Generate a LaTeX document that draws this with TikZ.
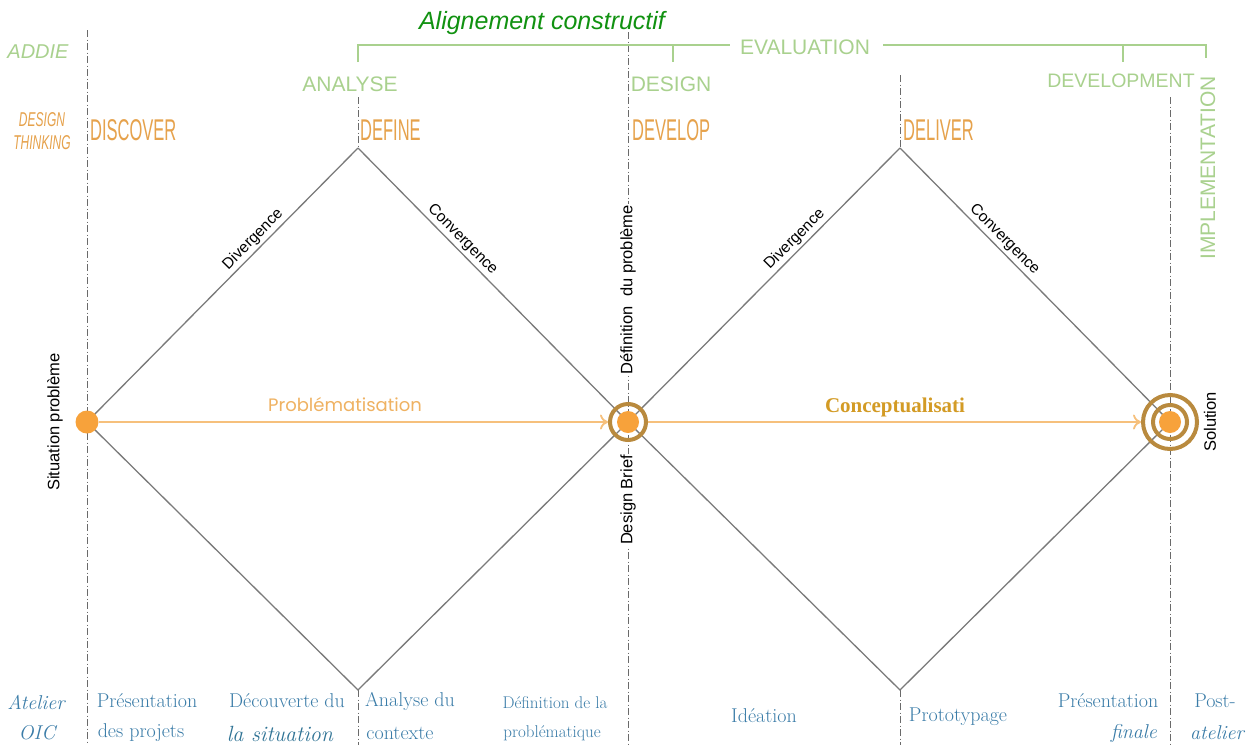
\documentclass[tikz,border=0pt]{standalone}
\usepackage{fontspec}
\usetikzlibrary{arrows.meta}
\newfontfamily\arial{Liberation Sans}
\newfontfamily\tnr{Liberation Serif}
\newfontfamily\rounded{Poppins}
\definecolor{gline}{HTML}{A9D18E}
\definecolor{dtor}{HTML}{E6A24C}
\definecolor{algreen}{HTML}{119211}
\definecolor{botblue}{HTML}{3A7CA8}
\definecolor{sitblue}{HTML}{2F7395}
\definecolor{flowor}{HTML}{F6C07C}
\definecolor{dotor}{HTML}{F7A23B}
\definecolor{ringbr}{HTML}{B98A3E}
\definecolor{probor}{HTML}{EFB262}
\definecolor{concor}{HTML}{D39B25}
\definecolor{diamgray}{HTML}{7A7A7A}
\definecolor{vgray}{HTML}{6A6A6A}
\tikzset{
  vline/.style={draw=vgray, line width=1pt, dash pattern=on 7pt off 2.5pt on 1pt off 2.5pt},
  diam/.style={draw=diamgray, line width=1.3pt},
  lbl/.style={font=\arial\fontsize{15.5}{17}\selectfont, inner sep=2.5pt, text=black},
  vlbl/.style={font=\arial\fontsize{16.5}{18}\selectfont, inner sep=1pt, text=black, rotate=90},
  addie/.style={text=gline, font=\arial\fontsize{21}{23}\selectfont, inner sep=0pt},
  dtlbl/.style={text=dtor, font=\arial\fontsize{30}{30}\selectfont, inner sep=0pt, anchor=west},
  dtsmall/.style={text=dtor, font=\arial\itshape\fontsize{20}{20}\selectfont, inner sep=0pt},
  bottom/.style={text=botblue, font=\fontsize{20}{22}\selectfont, inner sep=0pt},
  bottomit/.style={bottom, font=\itshape\fontsize{20}{22}\selectfont},
  flow/.style={draw=flowor, line width=1.8pt, -{To[length=8pt,width=15pt]}},
  bracket/.style={draw=gline, line width=1.3pt},
  dot/.style={circle, fill=dotor, inner sep=0pt},
  ring/.style={circle, draw=ringbr, line width=4pt, inner sep=0pt},
}
\newcommand{\cond}[1]{\scalebox{0.55}[1]{#1}}
\begin{document}
\begin{tikzpicture}[x=1pt,y=-1pt]
\useasboundingbox[fill=white] (0,0) rectangle (1247,745);

% key points
\coordinate (L) at (87,422);
\coordinate (T1) at (358,148);
\coordinate (M) at (628,422);
\coordinate (B1) at (358,690);
\coordinate (T2) at (900,148);
\coordinate (R) at (1170,422);
\coordinate (B2) at (900,690);

% vertical dash-dot lines
\draw[vline] (87,30) -- (87,745);
\draw[vline] (628,32) -- (628,745);
\draw[vline] (358,97) -- (T1);
\draw[vline] (B1) -- (358,745);
\draw[vline] (900,75) -- (T2);
\draw[vline] (B2) -- (900,745);
\draw[vline] (1170,97) -- (1170,745);

% diamonds
\draw[diam] (L) -- (T1) node[lbl, pos=0.64, sloped, above] {Divergence};
\draw[diam] (T1) -- (M) node[lbl, pos=0.36, sloped, above] {Convergence};
\draw[diam] (M) -- (B1) -- (L);
\draw[diam] (M) -- (T2) node[lbl, pos=0.64, sloped, above] {Divergence};
\draw[diam] (T2) -- (R) node[lbl, pos=0.36, sloped, above] {Convergence};
\draw[diam] (R) -- (B2) -- (M);

% points
\node[dot, minimum size=23pt] (sp) at (L) {};
\node[ring, minimum size=36pt] (db) at (M) {};
\node[dot, minimum size=22pt] (dbc) at (M) {};
\node[ring, minimum size=54pt] (sol) at (R) {};
\node[ring, minimum size=34pt] (soli) at (R) {};
\node[dot, minimum size=22pt] (solc) at (R) {};

% flows
\draw[flow] (sp) -- (db);
\draw[flow] (db) -- (sol);
\node[text=probor, font=\rounded\fontsize{18}{20}\selectfont, inner sep=0pt] (prob) at (345,405) {Problématisation};
\node[text=concor, font=\tnr\bfseries\fontsize{21}{23}\selectfont, inner sep=0pt] (conc) at (895,407) {Conceptualisati};

% vertical labels
\node[vlbl] (sit) at (55,422) {Situation problème};
\node[vlbl, fill=white] (defp) at (628,290) {Définition~~du problème};
\node[vlbl, fill=white] (brief) at (628,500) {Design Brief};
\node[vlbl] (solu) at (1210,422) {Solution};

% top: constructive alignment
\node[text=algreen, font=\arial\itshape\fontsize{25}{27}\selectfont, inner sep=0pt] (align) at (542,23) {Alignement constructif};
\node[addie] (eval) at (805,47) {EVALUATION};
\draw[bracket] (358,62) -- (358,45) -- ([xshift=-10pt]eval.west |- 0,45);
\draw[bracket] ([xshift=13pt]eval.east |- 0,45) -- (1206,45) -- (1206,58);
\draw[bracket] (673,45) -- (673,62);
\draw[bracket] (1123,45) -- (1123,62);

% ADDIE
\node[addie, font=\arial\itshape\fontsize{20}{22}\selectfont] (addie) at (38,52) {ADDIE};
\node[addie] (ana) at (350,84) {ANALYSE};
\node[addie] (des) at (671,84) {DESIGN};
\node[addie, font=\arial\fontsize{19.5}{22}\selectfont] (dev) at (1121,81) {DEVELOPMENT};
\node[addie, rotate=90] (impl) at (1208,168) {IMPLEMENTATION};

% Design thinking
\node[dtsmall] (dt1) at (42,120) {\scalebox{0.6}[1]{DESIGN}};
\node[dtsmall] (dt2) at (42,143) {\scalebox{0.6}[1]{THINKING}};
\node[dtlbl] (disc) at (90,130) {\cond{DISCOVER}};
\node[dtlbl] (defi) at (360,130) {\cond{DEFINE}};
\node[dtlbl] (devl) at (632,130) {\cond{DEVELOP}};
\node[dtlbl] (deli) at (903,130) {\cond{DELIVER}};

% bottom row
\node[bottomit] (a1) at (36,702) {Atelier};
\node[bottomit] (a2) at (37,733) {OIC};
\node[bottom] (p1) at (147,701) {Présentation};
\node[bottom] (p2) at (141,733) {des projets};
\node[bottom] (d1) at (287,701) {Découverte du};
\node[bottom, text=sitblue, font=\itshape\fontsize{22}{24}\selectfont] (d2) at (280,734) {la situation};
\node[bottom] (c1) at (410,701) {Analyse du};
\node[bottom] (c2) at (400,733) {contexte};
\node[bottom, font=\fontsize{17}{19}\selectfont] (e1) at (555,703) {Définition de la};
\node[bottom, font=\fontsize{17}{19}\selectfont] (e2) at (552,733) {problématique};
\node[bottom] (id) at (764,716) {Idéation};
\node[bottom] (pr) at (958,717) {Prototypage};
\node[bottom] (f1) at (1108,701) {Présentation};
\node[bottomit, anchor=east] (f2) at (1157,733) {finale};
\node[bottom] (q1) at (1215,701) {Post-};
\node[bottomit] (q2) at (1217,733) {atelier};
\end{tikzpicture}
\end{document}
